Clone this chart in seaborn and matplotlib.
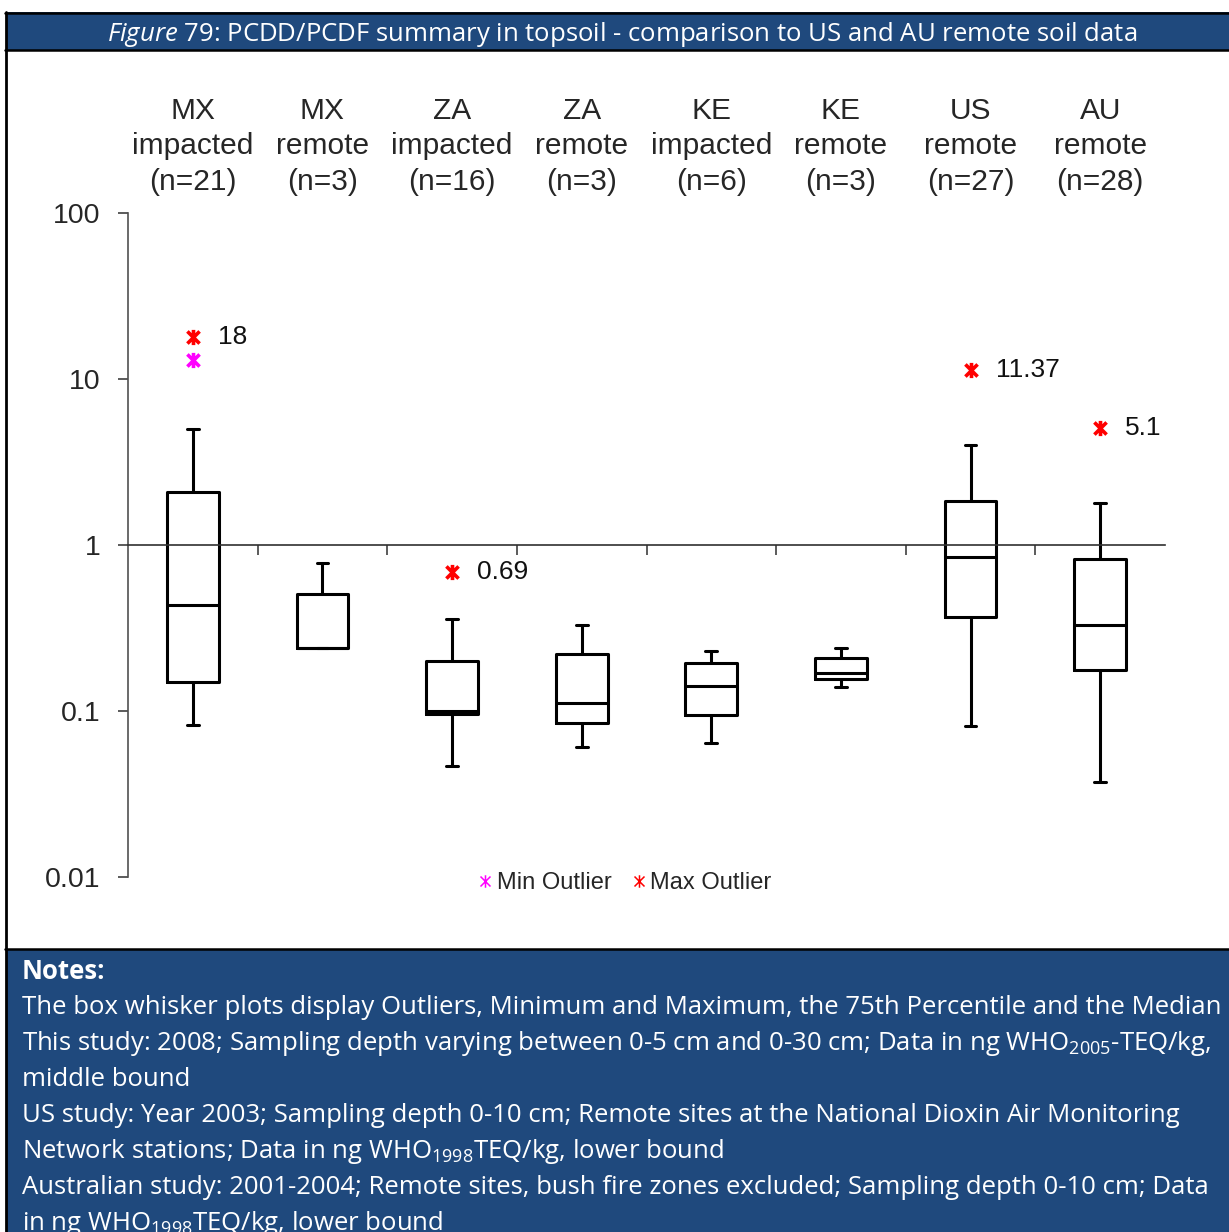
import matplotlib
matplotlib.use("Agg")
import matplotlib.pyplot as plt
import seaborn as sns
import numpy as np
from matplotlib.lines import Line2D
from matplotlib.patches import Rectangle
from matplotlib.path import Path
from matplotlib.ticker import FixedLocator, NullLocator

sns.set_style("white")
plt.rcParams["font.family"] = ["Liberation Sans", "DejaVu Sans"]
plt.rcParams["mathtext.fontset"] = "custom"
plt.rcParams["mathtext.rm"] = "Open Sans"
plt.rcParams["mathtext.it"] = "Open Sans:italic"
plt.rcParams["mathtext.default"] = "regular"

# Data (ng TEQ/kg)
categories = ["MX\nimpacted\n(n=21)", "MX\nremote\n(n=3)", "ZA\nimpacted\n(n=16)",
              "ZA\nremote\n(n=3)", "KE\nimpacted\n(n=6)", "KE\nremote\n(n=3)",
              "US\nremote\n(n=27)", "AU\nremote\n(n=28)"]
whis_lo = [0.082, 0.24, 0.0465, 0.061, 0.064, 0.140, 0.081, 0.0375]
q1 = [0.150, 0.24, 0.0955, 0.085, 0.0946, 0.155, 0.368, 0.177]
median = [0.433, 0.24, 0.100, 0.111, 0.141, 0.170, 0.847, 0.330]
q3 = [2.08, 0.51, 0.199, 0.221, 0.195, 0.208, 1.84, 0.82]
whis_hi = [5.0, 0.78, 0.358, 0.328, 0.231, 0.239, 4.0, 1.78]

max_out_pos = [0, 2, 6, 7]
max_out_val = [18, 0.69, 11.37, 5.1]
max_out_lab = ["18", "0.69", "11.37", "5.1"]
min_out_pos = [0]
min_out_val = [13]

yticks = [0.01, 0.1, 1, 10, 100]
ytick_labels = ["0.01", "0.1", "1", "10", "100"]

notes = [
    "The box whisker plots display Outliers, Minimum and Maximum, the 75th Percentile and the Median",
    "This study: 2008; Sampling depth varying between 0-5 cm and 0-30 cm; Data in ng WHO$_{2005}$-TEQ/kg,",
    "middle bound",
    "US study: Year 2003; Sampling depth 0-10 cm; Remote sites at the National Dioxin Air Monitoring",
    "Network stations; Data in ng WHO$_{1998}$TEQ/kg, lower bound",
    "Australian study: 2001-2004; Remote sites, bush fire zones excluded; Sampling depth 0-10 cm; Data",
    "in ng WHO$_{1998}$TEQ/kg, lower bound",
]
title = r"$\mathit{Figure}$ 79: PCDD/PCDF summary in topsoil - comparison to US and AU remote soil data"

BLUE = "#1F497D"
W, H = 1229, 1232


def fx(px):
    return px / W


def fy(py):
    return 1 - py / H


# excel-like star marker: x plus vertical bar
star = Path([(-1, -1), (1, 1), (-1, 1), (1, -1), (0, -1.25), (0, 1.25)],
            [Path.MOVETO, Path.LINETO, Path.MOVETO, Path.LINETO, Path.MOVETO, Path.LINETO])

fig = plt.figure(figsize=(W / 100, H / 100), dpi=100)

# header and notes bands
fig.add_artist(Rectangle((fx(6), fy(50)), 1, 38 / H, transform=fig.transFigure,
                         facecolor=BLUE, edgecolor="none"))
fig.add_artist(Rectangle((fx(6), 0), 1, fy(949), transform=fig.transFigure,
                         facecolor=BLUE, edgecolor="none"))
for yy in [12.5, 50, 949]:
    fig.add_artist(Line2D([fx(5), 1], [fy(yy)] * 2, color="black", lw=1.8))
fig.add_artist(Line2D([fx(6)] * 2, [0, fy(12)], color="black", lw=2))

fig.text(fx(622), fy(41), title, color="white", fontfamily="Open Sans",
         fontsize=18.5, ha="center", va="baseline")

fig.text(fx(22), fy(979), "Notes:", color="white", fontfamily="Open Sans",
         fontweight="bold", fontsize=18.5, va="baseline")
for i, line in enumerate(notes):
    fig.text(fx(22), fy(1014 + 36 * i), line, color="white", fontfamily="Open Sans",
             fontsize=18.5, va="baseline")

# chart
ax = fig.add_axes([fx(128), fy(877), (1165 - 128) / W, (877 - 213) / H])
# spine layout first: moving a spine resets the ticks
for s in ["top", "right"]:
    ax.spines[s].set_visible(False)
ax.spines["bottom"].set_position(("data", 1))
ax.spines["bottom"].set_color("#303030")
ax.spines["bottom"].set_linewidth(1.2)
ax.spines["left"].set_color("#505050")
ax.spines["left"].set_linewidth(1.2)

stats = [dict(whislo=whis_lo[i], q1=q1[i], med=median[i], q3=q3[i], whishi=whis_hi[i],
              fliers=[]) for i in range(len(categories))]
lw = 2.2
ax.bxp(stats, positions=range(len(categories)), widths=0.4, capwidths=0.09,
       showfliers=False,
       boxprops=dict(color="black", linewidth=lw),
       whiskerprops=dict(color="black", linewidth=lw),
       capprops=dict(color="black", linewidth=lw),
       medianprops=dict(color="black", linewidth=lw))

sns.scatterplot(x=max_out_pos, y=max_out_val, marker=star, s=120, color="#FF0000",
                edgecolor="#FF0000", linewidth=2.6, ax=ax, zorder=4)
sns.scatterplot(x=min_out_pos, y=min_out_val, marker=star, s=120, color="#FF00FF",
                edgecolor="#FF00FF", linewidth=2.6, ax=ax, zorder=4)
for p, v, t in zip(max_out_pos, max_out_val, max_out_lab):
    ax.annotate(t, (p, v), xytext=(18, 0), textcoords="offset points",
                va="center", ha="left", fontsize=19, color="#111111")

ax.set_yscale("log")
ax.set_ylim(0.01, 100)
ax.set_xlim(-0.5, len(categories) - 0.5)
ax.set_yticks(yticks)
ax.set_yticklabels(ytick_labels)
ax.yaxis.set_minor_locator(NullLocator())

ax.set_xticks(range(len(categories)))
ax.set_xticklabels(categories, linespacing=1.33)
ax.xaxis.set_minor_locator(FixedLocator(np.arange(0.5, len(categories) - 1, 1)))
ax.tick_params(axis="x", which="major", bottom=False, top=False, labelbottom=False,
               labeltop=True, labelsize=21.5, pad=9)
ax.tick_params(axis="x", which="minor", bottom=True, top=False, length=7,
               width=1.2, color="#404040", direction="out")
ax.tick_params(axis="y", which="major", left=True, length=7, width=1.2,
               color="#404040", direction="out", labelsize=20.5, pad=13)
ax.set_xlabel("")
ax.set_ylabel("")

handles = [Line2D([], [], marker=star, linestyle="none", markersize=9,
                  markerfacecolor="none", markeredgecolor="#FF00FF", markeredgewidth=1.1,
                  label="Min Outlier"),
           Line2D([], [], marker=star, linestyle="none", markersize=9,
                  markerfacecolor="none", markeredgecolor="#FF0000", markeredgewidth=1.1,
                  label="Max Outlier")]
ax.legend(handles=handles, loc="center", bbox_to_anchor=(0.479, -0.009), ncol=2,
          frameon=False, fontsize=17, handlelength=0.6, handletextpad=0.2,
          columnspacing=0.85)

fig.savefig("out.png", dpi=100)
